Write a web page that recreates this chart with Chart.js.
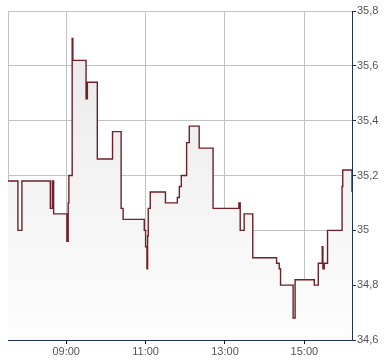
<!DOCTYPE html>
<html>
<head>
<meta charset="utf-8">
<script src="https://cdn.jsdelivr.net/npm/chart.js@4/dist/chart.umd.min.js"></script>
<style>
  html, body { margin: 0; padding: 0; background: #fff; }
</style>
</head>
<body>
<canvas id="c" width="390" height="364"></canvas>
<script>
// intraday trade times and prices (step line)
const times = ["07:32","07:47","07:53","08:36","08:39","08:41","09:01","09:03","09:04","09:09",
  "09:10","09:30","09:32","09:47","10:10","10:23","10:26","10:58","11:00","11:02",
  "11:03","11:04","11:07","11:30","11:48","11:51","11:54","12:02","12:06","12:21",
  "12:42","13:21","13:23","13:29","13:42","14:18","14:22","14:24","14:43","14:46",
  "15:15","15:21","15:27","15:28","15:30","15:35","15:57","15:58","16:12"];
const prices = [35.18,35.00,35.18,35.08,35.18,35.06,34.96,35.10,35.20,35.70,
  35.62,35.48,35.54,35.26,35.36,35.08,35.04,35.00,34.94,34.86,
  34.98,35.08,35.14,35.10,35.12,35.16,35.20,35.32,35.38,35.30,
  35.08,35.10,35.00,35.06,34.90,34.88,34.86,34.80,34.68,34.82,
  34.80,34.88,34.94,34.86,34.88,35.00,35.16,35.22,35.14];
const xTickLabels = ["09:00","11:00","13:00","15:00"];
const yTickValues = [34.6,34.8,35.0,35.2,35.4,35.6,35.8];
const xStart = "07:32", xEnd = "16:12";

const toMin = s => { const [h, m] = s.split(":").map(Number); return h * 60 + m; };
const pad = n => String(n).padStart(2, "0");
const fmtMin = v => pad(Math.floor(v / 60)) + ":" + pad(v % 60);

const navy = "#1b305e";
const font = { family: "'Liberation Sans', Arial, sans-serif", size: 11 };

new Chart(document.getElementById("c"), {
  type: "line",
  data: {
    datasets: [{
      data: times.map((t, i) => ({ x: toMin(t), y: prices[i] })),
      stepped: true,
      borderColor: "#6e2128",
      borderWidth: 1.4,
      pointRadius: 0,
      fill: "start",
      backgroundColor: ctx => {
        const a = ctx.chart.chartArea;
        if (!a) return "#f2f2f2";
        const g = ctx.chart.ctx.createLinearGradient(0, a.top, 0, a.bottom);
        g.addColorStop(0, "#e8e8e8");
        g.addColorStop(1, "#fdfdfd");
        return g;
      }
    }]
  },
  options: {
    responsive: false,
    animation: false,
    layout: { padding: { left: 8, top: 11, right: 0, bottom: 0 } },
    plugins: { legend: { display: false }, tooltip: { enabled: false } },
    scales: {
      x: {
        type: "linear",
        min: toMin(xStart),
        max: toMin(xEnd),
        afterBuildTicks: s => {
          s.ticks = [{ value: s.min }].concat(xTickLabels.map(l => ({ value: toMin(l) })));
        },
        afterFit: s => { s.height = 24; },
        grid: {
          color: "#c2c2c2",
          tickLength: 4,
          tickColor: c => c.index === 0 ? "rgba(0,0,0,0)" : "#111"
        },
        border: { color: navy, width: 1 },
        ticks: {
          color: "#555",
          font,
          padding: 1,
          maxRotation: 0,
          autoSkip: false,
          callback: (v, i) => i === 0 ? "" : fmtMin(v)
        }
      },
      y: {
        position: "right",
        min: 34.6,
        max: 35.8,
        afterBuildTicks: s => { s.ticks = yTickValues.map(v => ({ value: v })); },
        afterFit: s => { s.width = 38; },
        grid: { color: "#c2c2c2", tickLength: 4, tickColor: navy },
        border: { color: navy, width: 1 },
        ticks: {
          color: "#555",
          font,
          padding: 1,
          callback: v => String(Number(v.toFixed(1))).replace(".", ",")
        }
      }
    }
  }
});
</script>
</body>
</html>
